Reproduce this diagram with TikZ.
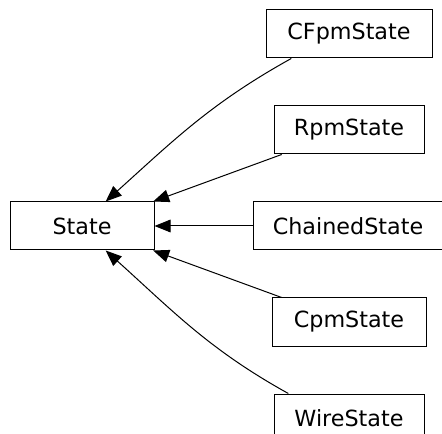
\documentclass[tikz,border=0pt]{standalone}
\usepackage{fontspec}
\newfontfamily\dejavu{DejaVu Sans}
\usetikzlibrary{arrows.meta}
\begin{document}
\begin{tikzpicture}[x=0.75pt, y=0.75pt,
		cls/.style={draw, rectangle, line width=0.75pt, minimum height=36pt, inner xsep=4pt,
			font=\dejavu\fontsize{16.7}{20}\selectfont},
		inherit/.style={-{Triangle[length=12pt,width=9.5pt]}, line width=0.75pt}]

		\useasboundingbox (0, 0) rectangle (442, -434);

		\node[cls, minimum width=108pt] (state) at (82, -226) {State};
		\node[cls, minimum width=124.5pt] (cfpm) at (349, -34) {CFpmState};
		\node[cls, minimum width=112.5pt] (rpm) at (349, -130) {RpmState};
		\node[cls, minimum width=142.5pt] (chained) at (348, -226) {ChainedState};
		\node[cls, minimum width=115.5pt] (cpm) at (349, -322) {CpmState};
		\node[cls, minimum width=112.5pt] (wire) at (349, -418) {WireState};

		\draw[inherit] (cfpm.203) to[out=209, in=42] (state.46);
		\draw[inherit] (rpm.200) -- (state.19);
		\draw[inherit] (chained.west) -- (state.east);
		\draw[inherit] (cpm.160) -- (state.-19);
		\draw[inherit] (wire.158) to[out=151, in=-42] (state.-46);

	\end{tikzpicture}
\end{document}
